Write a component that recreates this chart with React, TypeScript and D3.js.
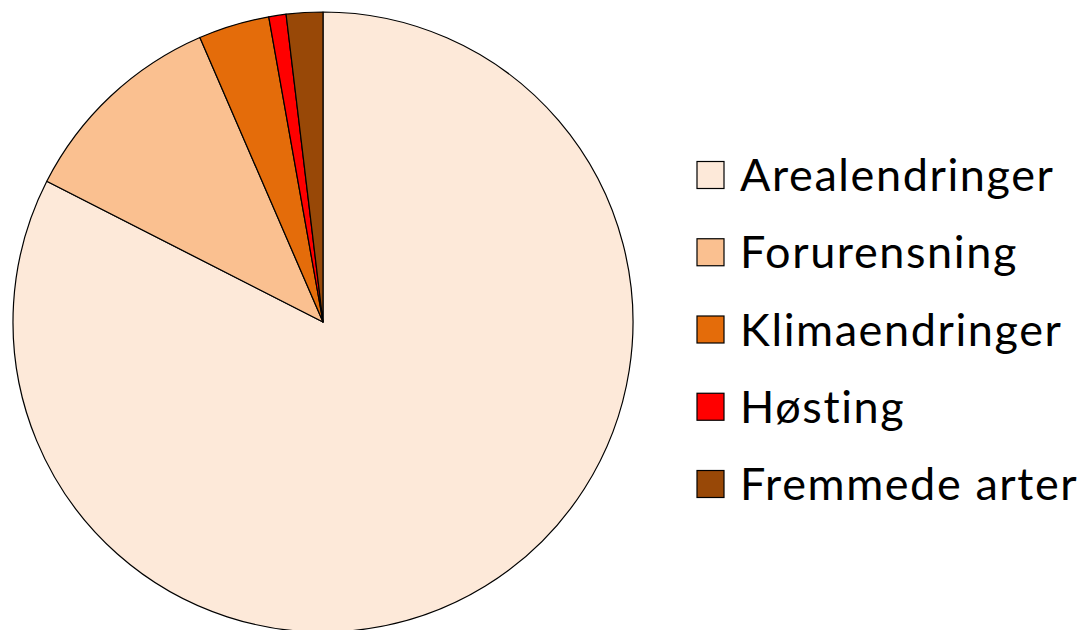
import * as d3 from 'd3';
import React from 'react';

const categories = ['Arealendringer', 'Forurensning', 'Klimaendringer', 'Høsting', 'Fremmede arter'];
const shares = [82.5, 11.0, 3.7, 0.9, 1.9];
const colors = ['#FDE9D9', '#FAC090', '#E46C0A', '#FF0000', '#984807'];

export default function App() {
    const width = 1092;
    const height = 630;
    const cx = 323;
    const cy = 322;
    const radius = 310;

    const data = categories.map((name, i) => ({ name, value: shares[i], color: colors[i] }));

    const pie = d3.pie<any>()
        .sort(null)
        .value(d => d.value);

    const arc = d3.arc<any>()
        .innerRadius(0)
        .outerRadius(radius);

    const legendY = d3.scalePoint<string>()
        .domain(categories)
        .range([175, 484]);

    return (
        <svg width={width} height={height}
            style={{ position: 'fixed', left: 0, top: 0, background: '#fff' }}>
            <g transform={`translate(${cx}, ${cy})`}>
                {pie(data).map(slice => (
                    <path key={slice.data.name}
                        d={arc(slice) as string}
                        fill={slice.data.color}
                        stroke='#000'
                        strokeWidth={1.2}
                        strokeLinejoin='round' />
                ))}
            </g>
            <g fontFamily='Lato, "Open Sans", sans-serif' fontSize={45} letterSpacing={1.6} fill='#000'>
                {data.map(d => (
                    <g key={d.name} transform={`translate(697, ${legendY(d.name)})`}>
                        <rect x={0} y={-13.5} width={27} height={27}
                            fill={d.color} stroke='#000' strokeWidth={1.2} />
                        <text x={43} y={0} dy='0.36em'>{d.name}</text>
                    </g>
                ))}
            </g>
        </svg>
    );
}
